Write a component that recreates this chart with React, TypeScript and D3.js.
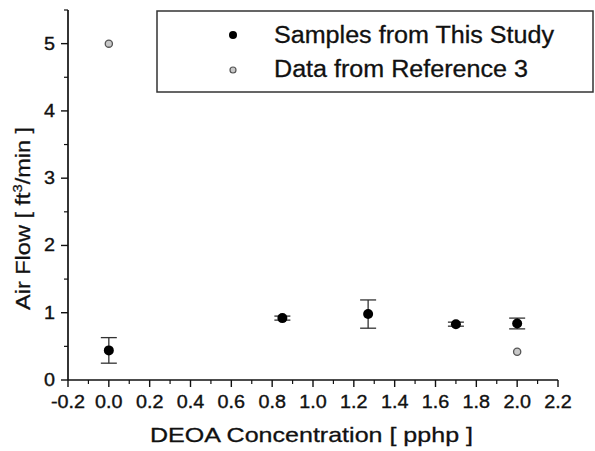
import React from "react";
import * as d3 from "d3";

const studyX = [0.0, 0.85, 1.27, 1.7, 2.0];
const studyY = [0.44, 0.92, 0.98, 0.83, 0.84];
const studyErr = [0.19, 0.03, 0.21, 0.03, 0.08];
const refX = [0.0, 2.0];
const refY = [5.0, 0.42];
const xTicks = [-0.2, 0.0, 0.2, 0.4, 0.6, 0.8, 1.0, 1.2, 1.4, 1.6, 1.8, 2.0, 2.2];
const yTicks = [0, 1, 2, 3, 4, 5];
const legendLabels = ["Samples from This Study", "Data from Reference 3"];

const W = 595;
const H = 451;
const FONT = "'Liberation Sans', Arial, Helvetica, sans-serif";

export default function App() {
  const x = d3.scaleLinear().domain([-0.2, 2.2]).range([68, 558]);
  const y = d3.scaleLinear().domain([0, 5.5]).range([380, 10]);
  const xMinor = d3.range(-0.1, 2.2, 0.2);
  const yMinor = d3.range(0.5, 5.6, 1);
  const cap = 8;

  return (
    <svg width={W} height={H} style={{ position: "absolute", left: 0, top: 0, background: "#fff" }}>
      <rect x={0} y={0} width={W} height={H} fill="#fff" />
      {/* axes */}
      <line x1={x(-0.2)} x2={x(2.2)} y1={y(0)} y2={y(0)} stroke="#111" strokeWidth={1.7} />
      <line x1={x(-0.2)} x2={x(-0.2)} y1={y(0)} y2={y(5.5)} stroke="#111" strokeWidth={1.7} />
      {xTicks.map((t) => (
        <g key={"xt" + t}>
          <line x1={x(t)} x2={x(t)} y1={y(0)} y2={y(0) + 7} stroke="#111" strokeWidth={1.4} />
          <text
            x={x(t)}
            y={408}
            textAnchor="middle"
            fontFamily={FONT}
            fontSize={17.5}
            fill="#111"
            stroke="#111"
            strokeWidth={0.35}
            transform={`translate(${x(t)},0) scale(1.13,1) translate(${-x(t)},0)`}
          >
            {t.toFixed(1)}
          </text>
        </g>
      ))}
      {xMinor.map((t) => (
        <line key={"xm" + t} x1={x(t)} x2={x(t)} y1={y(0)} y2={y(0) + 4} stroke="#111" strokeWidth={1.2} />
      ))}
      {yTicks.map((t) => (
        <g key={"yt" + t}>
          <line x1={x(-0.2) - 7} x2={x(-0.2)} y1={y(t)} y2={y(t)} stroke="#111" strokeWidth={1.4} />
          <text
            x={55}
            y={y(t) + 6}
            textAnchor="end"
            fontFamily={FONT}
            fontSize={17.5}
            fill="#111"
            stroke="#111"
            strokeWidth={0.35}
            transform={`translate(55,0) scale(1.13,1) translate(-55,0)`}
          >
            {t}
          </text>
        </g>
      ))}
      {yMinor.map((t) => (
        <line key={"ym" + t} x1={x(-0.2) - 4} x2={x(-0.2)} y1={y(t)} y2={y(t)} stroke="#111" strokeWidth={1.2} />
      ))}
      {/* axis titles */}
      <text
        x={311.5}
        y={442}
        textAnchor="middle"
        fontFamily={FONT}
        fontSize={21}
        fill="#111"
        stroke="#111"
        strokeWidth={0.3}
        textLength={323}
        lengthAdjust="spacingAndGlyphs"
      >
        DEOA Concentration [ pphp ]
      </text>
      <text
        transform="translate(30,310) rotate(-90) scale(1.12,1)"
        textAnchor="start"
        fontFamily={FONT}
        fontSize={21}
        fill="#111"
        stroke="#111"
        strokeWidth={0.3}
      >
        Air Flow [ ft
        <tspan dy={-8} fontSize={13}>3</tspan>
        <tspan dy={8}>/min ]</tspan>
      </text>
      {/* error bars */}
      {studyX.map((v, i) => (
        <g key={"eb" + i} stroke="#333" strokeWidth={1.3}>
          <line x1={x(v)} x2={x(v)} y1={y(studyY[i] - studyErr[i])} y2={y(studyY[i] + studyErr[i])} />
          <line x1={x(v) - cap} x2={x(v) + cap} y1={y(studyY[i] - studyErr[i])} y2={y(studyY[i] - studyErr[i])} />
          <line x1={x(v) - cap} x2={x(v) + cap} y1={y(studyY[i] + studyErr[i])} y2={y(studyY[i] + studyErr[i])} />
        </g>
      ))}
      {studyX.map((v, i) => (
        <circle key={"sp" + i} cx={x(v)} cy={y(studyY[i])} r={5} fill="#000" />
      ))}
      {refX.map((v, i) => (
        <circle key={"rp" + i} cx={x(v)} cy={y(refY[i])} r={3.6} fill="#c8c8c8" stroke="#555" strokeWidth={1.3} />
      ))}
      {/* legend */}
      <rect x={157} y={11} width={436} height={81} fill="#fff" stroke="#333" strokeWidth={1.5} />
      <circle cx={233} cy={35} r={4} fill="#000" />
      <circle cx={233} cy={70} r={3} fill="#c8c8c8" stroke="#555" strokeWidth={1.2} />
      {legendLabels.map((l, i) => (
        <text
          key={l}
          x={274}
          y={43 + i * 34}
          fontFamily={FONT}
          fontSize={23}
          fill="#111"
          stroke="#111"
          strokeWidth={0.3}
          textLength={i === 0 ? 280 : 254}
          lengthAdjust="spacingAndGlyphs"
        >
          {l}
        </text>
      ))}
    </svg>
  );
}
